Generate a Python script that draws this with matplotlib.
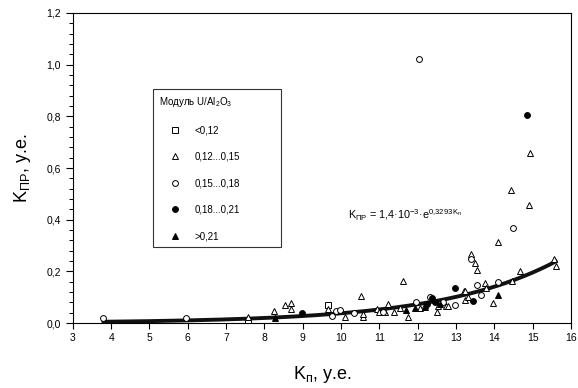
# Scatter of K_ПР against K_п grouped by U/Al2O3 modulus, with exponential fit
import numpy as np
import matplotlib.pyplot as plt

plt.rcParams['font.family'] = ['Liberation Sans', 'DejaVu Sans']
plt.rcParams['mathtext.fontset'] = 'custom'
plt.rcParams['mathtext.rm'] = 'Liberation Sans'
plt.rcParams['mathtext.it'] = 'Liberation Sans'

# Data, one pair of lists per group
sq_x = [7.57, 9.65]
sq_y = [0.012, 0.070]

tri_x = [7.57, 8.24, 8.53, 8.70, 8.70, 9.65, 10.10, 10.52, 10.57, 10.57, 10.93, 11.00,
         11.15, 11.23, 11.37, 11.54, 11.62, 11.75, 12.06, 12.20, 12.49, 12.54, 12.74, 12.80,
         13.20, 13.23, 13.23, 13.30, 13.38, 13.49, 13.54, 13.76, 13.77, 13.96, 14.09, 14.42,
         14.47, 14.66, 14.90, 14.92, 15.55, 15.60]
tri_y = [0.024, 0.047, 0.070, 0.076, 0.054, 0.053, 0.022, 0.106, 0.022, 0.034, 0.054, 0.044,
         0.044, 0.072, 0.044, 0.057, 0.163, 0.025, 0.060, 0.068, 0.041, 0.067, 0.064, 0.066,
         0.124, 0.089, 0.124, 0.100, 0.267, 0.234, 0.205, 0.156, 0.134, 0.076, 0.313, 0.515,
         0.163, 0.203, 0.455, 0.658, 0.247, 0.222]

circ_x = [3.79, 5.96, 9.76, 9.87, 9.97, 10.33, 11.08, 11.96, 12.02, 12.32, 12.65, 12.97,
          13.38, 13.55, 13.64, 14.10, 14.48]
circ_y = [0.018, 0.018, 0.027, 0.048, 0.050, 0.038, 0.044, 0.080, 1.02, 0.102, 0.083, 0.070,
          0.248, 0.147, 0.108, 0.158, 0.369]

dot_x = [8.98, 12.23, 12.36, 12.45, 12.97, 13.44, 14.86]
dot_y = [0.037, 0.072, 0.095, 0.080, 0.137, 0.085, 0.806]

ftri_x = [8.28, 11.70, 11.93, 12.20, 12.58, 14.10]
ftri_y = [0.018, 0.050, 0.057, 0.062, 0.072, 0.108]

# Fit from the equation on the chart
a_fit = 1.4e-3
b_fit = 0.3293
fit_x = np.linspace(3.8, 15.6, 200)
fit_y = a_fit * np.exp(b_fit * fit_x)

fig = plt.figure(figsize=(5.78, 3.88), dpi=100)
ax = fig.add_axes([0.126, 0.1675, 0.862, 0.799])

ax.plot(fit_x, fit_y, color='#111111', lw=2.8, zorder=2)

ms = 4.2
ax.plot(sq_x, sq_y, 's', ms=ms, mfc='white', mec='black', mew=0.7, label='<0,12', zorder=3)
ax.plot(tri_x, tri_y, '^', ms=ms + 0.6, mfc='white', mec='black', mew=0.7, label='0,12...0,15', zorder=3)
ax.plot(circ_x, circ_y, 'o', ms=ms, mfc='white', mec='black', mew=0.7, label='0,15...0,18', zorder=3)
ax.plot(dot_x, dot_y, 'o', ms=ms, mfc='black', mec='black', mew=0.7, label='0,18...0,21', zorder=3)
ax.plot(ftri_x, ftri_y, '^', ms=ms + 0.6, mfc='black', mec='black', mew=0.7, label='>0,21', zorder=3)

leg = ax.legend(title='Модуль U/Al$_2$O$_3$', loc='upper left',
                bbox_to_anchor=(0.161, 0.245, 0.257, 0.51), mode='expand',
                borderaxespad=0, fontsize=7, title_fontsize=7, frameon=True,
                fancybox=False, edgecolor='black', labelspacing=1.7,
                handlelength=3.3, handletextpad=0.4, borderpad=0.6,
                alignment='left', numpoints=1)
leg.get_frame().set_linewidth(0.8)

ax.text(10.18, 0.415, r'K$_{\mathrm{ПР}}$ = 1,4·10$^{-3}$·e$^{0{,}3293\,\mathrm{K}_{\mathrm{п}}}$',
        fontsize=7.8, va='center', ha='left')

ax.set_xlim(3, 16)
ax.set_ylim(0, 1.2)
ax.set_xticks(range(3, 17))
ax.set_yticks(np.arange(0, 1.21, 0.2))
ax.set_yticklabels([f'{v:.1f}'.replace('.', ',') for v in np.arange(0, 1.21, 0.2)])
ax.set_yticks(np.arange(0, 1.2001, 0.04), minor=True)
ax.tick_params(axis='both', direction='out', labelsize=7.5, width=0.8)
ax.tick_params(axis='y', which='major', length=5)
ax.tick_params(axis='y', which='minor', length=3, width=0.7)
ax.tick_params(axis='x', which='major', length=4)
ax.tick_params(axis='x', which='minor', bottom=False)

ax.set_xlabel('K$_{\\mathrm{п}}$, у.е.', fontsize=13, labelpad=15)
ax.set_ylabel('K$_{\\mathrm{ПР}}$, у.е.', fontsize=13, labelpad=10)

for s in ax.spines.values():
    s.set_linewidth(0.8)

fig.savefig('out.png', dpi=100)
